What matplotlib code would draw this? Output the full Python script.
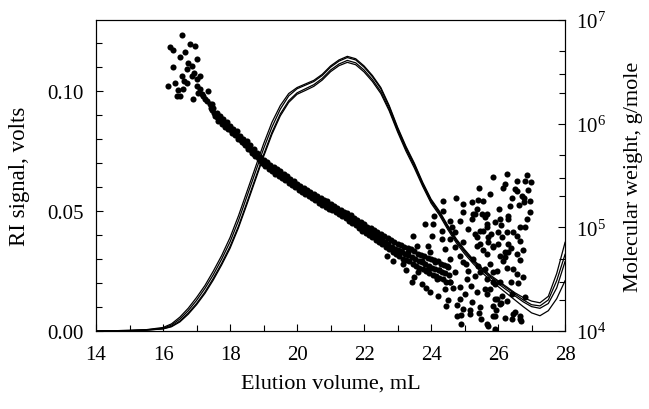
import matplotlib
matplotlib.use("Agg")
import matplotlib.pyplot as plt
from matplotlib.ticker import MultipleLocator, FormatStrFormatter, LogLocator, NullFormatter

# --- RI traces (left axis), elution volume in mL ---
ri_vol = [14.0, 15.0, 15.5, 16.0, 16.25, 16.5, 16.75, 17.0, 17.25, 17.5, 17.75,
          18.0, 18.25, 18.5, 18.75, 19.0, 19.25, 19.5, 19.75, 20.0, 20.25, 20.5,
          20.75, 21.0, 21.25, 21.5, 21.75, 22.0, 22.25, 22.5, 22.75, 23.0, 23.25,
          23.5, 23.75, 24.0, 24.25, 24.5, 24.75, 25.0, 25.25, 25.5, 25.75, 26.0,
          26.25, 26.5, 26.75, 27.0, 27.25, 27.5, 27.75, 28.0]

ri_run1 = [0.0, 0.0003, 0.0006, 0.0015, 0.003, 0.0058, 0.0095, 0.014, 0.019, 0.025,
           0.0315, 0.039, 0.048, 0.058, 0.068, 0.078, 0.087, 0.094, 0.099, 0.1015,
           0.103, 0.1045, 0.107, 0.1105, 0.113, 0.1145, 0.1135, 0.1105, 0.1065,
           0.1015, 0.094, 0.085, 0.077, 0.070, 0.062, 0.055, 0.050, 0.044, 0.0385,
           0.034, 0.030, 0.0265, 0.0235, 0.021, 0.0185, 0.016, 0.014, 0.0125,
           0.0118, 0.0145, 0.024, 0.037]
ri_run2 = [0.0, 0.0003, 0.0005, 0.0012, 0.0025, 0.005, 0.0085, 0.0128, 0.0178, 0.0235,
           0.030, 0.0372, 0.046, 0.056, 0.066, 0.076, 0.085, 0.0925, 0.098, 0.101,
           0.1025, 0.104, 0.1065, 0.110, 0.1125, 0.114, 0.113, 0.110, 0.106, 0.101,
           0.0935, 0.0845, 0.0765, 0.0695, 0.0615, 0.0545, 0.0495, 0.0435, 0.038,
           0.0335, 0.0295, 0.026, 0.023, 0.0205, 0.018, 0.0155, 0.013, 0.011,
           0.0105, 0.013, 0.021, 0.032]
ri_run3 = [0.0, 0.0002, 0.0004, 0.001, 0.002, 0.0042, 0.0075, 0.0115, 0.0163, 0.022,
           0.0283, 0.0353, 0.0437, 0.0535, 0.0635, 0.0735, 0.0828, 0.0905, 0.096,
           0.0993, 0.101, 0.1027, 0.1053, 0.1088, 0.1113, 0.1128, 0.1118, 0.1088,
           0.1048, 0.0998, 0.0925, 0.0837, 0.0758, 0.0688, 0.061, 0.054, 0.049,
           0.043, 0.0375, 0.033, 0.029, 0.0255, 0.0225, 0.0198, 0.0172, 0.0147,
           0.0122, 0.0102, 0.0095, 0.0115, 0.018, 0.029]
ri_run4 = [0.0, 0.0002, 0.0004, 0.0009, 0.0018, 0.0038, 0.007, 0.011, 0.0157, 0.0213,
           0.0276, 0.0345, 0.043, 0.0527, 0.0627, 0.0727, 0.082, 0.0897, 0.0953,
           0.0987, 0.1003, 0.102, 0.1046, 0.1081, 0.1106, 0.112, 0.111, 0.108, 0.104,
           0.099, 0.0918, 0.083, 0.075, 0.068, 0.0603, 0.0533, 0.0483, 0.0423,
           0.0368, 0.0322, 0.0282, 0.0246, 0.0215, 0.0186, 0.0158, 0.013, 0.0102,
           0.0076, 0.0064, 0.0085, 0.0135, 0.021]

# --- molecular weight points (right axis), g/mole ---
# early, high-MW cluster
top_vol = [16.15, 16.21, 16.30, 16.30, 16.36, 16.42, 16.50, 16.50, 16.57, 16.57,
           16.60, 16.66, 16.70, 16.72, 16.80, 16.87, 16.87, 16.90, 16.96, 17.00,
           17.00, 17.00, 17.10, 17.10, 17.20, 17.30, 17.35, 16.75, 16.92, 17.05,
           17.15, 17.25, 16.45, 16.62, 17.45]
top_mw = [2.3e6, 5.5e6, 5.2e6, 3.5e6, 2.5e6, 1.85e6, 4.4e6, 1.85e6, 7.2e6, 2.9e6,
          2.15e6, 4.9e6, 3.4e6, 2.5e6, 5.9e6, 3.6e6, 2.9e6, 1.74e6, 5.6e6, 4.2e6,
          2.7e6, 2.3e6, 2.9e6, 2.15e6, 1.85e6, 1.66e6, 2.05e6, 3.9e6, 3.1e6, 2.0e6,
          1.95e6, 1.75e6, 2.1e6, 2.6e6, 1.55e6]

# main band: upper / lower edge points
band_vol = [17.40, 17.45, 17.50, 17.55, 17.60, 17.65, 17.70, 17.75, 17.80, 17.85,
            17.90, 17.95, 18.00, 18.05, 18.10, 18.15, 18.20, 18.25, 18.30, 18.35,
            18.40, 18.45, 18.50, 18.55, 18.60, 18.65, 18.70, 18.75, 18.80, 18.85,
            18.90, 18.95, 19.00, 19.05, 19.10, 19.15, 19.20, 19.25, 19.30, 19.35,
            19.40, 19.45, 19.50, 19.55, 19.60, 19.65, 19.70, 19.75, 19.80, 19.85,
            19.90, 19.95, 20.00, 20.05, 20.10, 20.15, 20.20, 20.25, 20.30, 20.35,
            20.40, 20.45, 20.50, 20.55, 20.60, 20.65, 20.70, 20.75, 20.80, 20.85,
            20.90, 20.95, 21.00, 21.05, 21.10, 21.15, 21.20, 21.25, 21.30, 21.35,
            21.40, 21.45, 21.50, 21.55, 21.60, 21.65, 21.70, 21.75, 21.80, 21.85,
            21.90, 21.95, 22.00, 22.05, 22.10, 22.15, 22.20, 22.25, 22.30, 22.35,
            22.40, 22.45, 22.50, 22.55, 22.60, 22.65, 22.70, 22.75, 22.80, 22.85,
            22.90, 22.95, 23.00, 23.05, 23.10, 23.15, 23.20, 23.25, 23.30, 23.35,
            23.40, 23.45, 23.50, 23.55, 23.60, 23.65, 23.70, 23.75, 23.80, 23.85,
            23.90, 23.95, 24.00, 24.05, 24.10, 24.15, 24.20, 24.25, 24.30, 24.35,
            24.40, 24.45, 24.50, 24.55]
band_mw = [1.55e6, 1.35e6, 1.41e6, 1.20e6, 1.26e6, 1.07e6, 1.20e6, 1.00e6, 1.10e6, 9.3e5,
           1.05e6, 8.9e5, 9.5e5, 8.1e5, 8.9e5, 7.8e5, 8.5e5, 7.2e5, 7.6e5, 6.6e5,
           7.1e5, 6.2e5, 6.8e5, 5.75e5, 6.2e5, 5.25e5, 5.75e5, 4.9e5, 5.25e5, 4.57e5,
           4.8e5, 4.17e5, 4.47e5, 3.9e5, 4.27e5, 3.7e5, 4.0e5, 3.47e5, 3.8e5, 3.3e5,
           3.63e5, 3.16e5, 3.47e5, 3.0e5, 3.3e5, 2.9e5, 3.16e5, 2.7e5, 2.95e5, 2.57e5,
           2.82e5, 2.45e5, 2.63e5, 2.29e5, 2.5e5, 2.19e5, 2.4e5, 2.09e5, 2.29e5, 2.0e5,
           2.19e5, 1.91e5, 2.09e5, 1.82e5, 2.0e5, 1.74e5, 1.91e5, 1.66e5, 1.82e5, 1.58e5,
           1.78e5, 1.51e5, 1.70e5, 1.48e5, 1.62e5, 1.41e5, 1.55e5, 1.35e5, 1.48e5, 1.29e5,
           1.41e5, 1.23e5, 1.38e5, 1.15e5, 1.32e5, 1.10e5, 1.23e5, 1.05e5, 1.17e5, 9.8e4,
           1.12e5, 9.3e4, 1.07e5, 8.9e4, 1.02e5, 8.5e4, 9.8e4, 8.1e4, 9.5e4, 7.6e4,
           9.1e4, 7.2e4, 8.7e4, 6.9e4, 8.3e4, 6.5e4, 7.9e4, 6.2e4, 7.6e4, 5.75e4,
           7.2e4, 5.5e4, 6.9e4, 5.25e4, 6.8e4, 5.0e4, 6.5e4, 4.9e4, 6.3e4, 4.7e4,
           6.2e4, 4.47e4, 5.9e4, 4.27e4, 5.6e4, 4.07e4, 5.4e4, 4.0e4, 5.25e4, 3.8e4,
           5.1e4, 3.63e4, 5.0e4, 3.47e4, 4.8e4, 3.4e4, 4.7e4, 3.24e4, 4.47e4, 3.16e4,
           4.37e4, 3.0e4, 4.17e4, 2.95e4]

# main band: centre points
mid_vol = [17.425, 17.525, 17.625, 17.725, 17.825, 17.925, 18.025, 18.125, 18.225, 18.325,
           18.425, 18.525, 18.625, 18.725, 18.825, 18.925, 19.025, 19.125, 19.225, 19.325,
           19.425, 19.525, 19.625, 19.725, 19.825, 19.925, 20.025, 20.125, 20.225, 20.325,
           20.425, 20.525, 20.625, 20.725, 20.825, 20.925, 21.025, 21.125, 21.225, 21.325,
           21.425, 21.525, 21.625, 21.725, 21.825, 21.925, 22.025, 22.125, 22.225, 22.325,
           22.425, 22.525, 22.625, 22.725, 22.825, 22.925, 23.025, 23.125, 23.225, 23.325,
           23.425, 23.525, 23.625, 23.725, 23.825, 23.925, 24.025, 24.125, 24.225, 24.325,
           24.425, 24.525]
mid_mw = [1.41e6, 1.26e6, 1.15e6, 1.07e6, 1.0e6, 9.3e5, 8.7e5, 8.1e5, 7.6e5, 6.9e5,
          6.5e5, 6.0e5, 5.6e5, 5.1e5, 4.8e5, 4.37e5, 4.1e5, 3.9e5, 3.7e5, 3.5e5,
          3.35e5, 3.2e5, 3.05e5, 2.9e5, 2.72e5, 2.57e5, 2.43e5, 2.32e5, 2.2e5, 2.1e5,
          2.02e5, 1.93e5, 1.84e5, 1.76e5, 1.68e5, 1.62e5, 1.57e5, 1.5e5, 1.43e5, 1.36e5,
          1.3e5, 1.24e5, 1.19e5, 1.12e5, 1.06e5, 1.01e5, 9.7e4, 9.2e4, 8.8e4, 8.4e4,
          8.0e4, 7.7e4, 7.3e4, 6.9e4, 6.5e4, 6.2e4, 6.0e4, 5.75e4, 5.55e4, 5.4e4,
          5.2e4, 4.95e4, 4.7e4, 4.6e4, 4.4e4, 4.27e4, 4.1e4, 4.0e4, 3.85e4, 3.7e4,
          3.6e4, 3.47e4]

# noisy tail, 22.5-27 mL
tail_vol = [25.85, 26.27, 26.87, 26.81, 26.99, 25.43, 26.15, 26.51, 26.57, 24.36,
            24.75, 25.40, 25.55, 26.42, 26.78, 26.78, 24.96, 26.63, 24.36, 24.96,
            25.37, 26.03, 26.96, 25.25, 25.52, 25.67, 26.30, 26.30, 26.66, 26.81,
            26.45, 26.27, 25.67, 25.55, 25.70, 26.12, 26.66, 26.30, 25.85, 25.46,
            26.21, 26.06, 25.67, 26.66, 26.21, 25.61, 25.85, 25.46, 26.57, 26.75,
            26.06, 25.85, 25.76, 26.42, 26.12, 25.97, 26.27, 26.06, 26.81, 25.85,
            26.51, 26.66, 25.67, 25.91, 23.82, 24.06, 24.57, 24.63, 24.87, 25.22,
            25.31, 25.22, 25.61, 25.67, 25.91, 26.00, 25.46, 25.37, 25.70, 25.85,
            25.37, 24.96, 24.57, 24.33, 24.42, 24.87, 24.96, 24.48, 24.72, 25.10,
            25.40, 25.67, 25.97, 26.27, 26.45, 26.57, 26.30, 26.15, 25.91, 25.61,
            25.37, 25.07, 24.87, 24.57, 24.42, 24.87, 25.22, 25.46, 25.67, 25.91,
            24.96, 25.16, 25.91, 26.42, 26.66, 24.78, 23.97, 23.91, 23.61, 23.73,
            23.43, 24.18, 24.12, 23.97, 23.73, 23.91, 23.58, 23.31, 23.07, 23.16,
            22.87, 22.69, 24.03, 23.46, 24.33, 24.72, 24.45, 24.78, 24.90, 25.16,
            25.43, 25.85, 24.90, 25.70, 25.91, 26.45, 26.69, 26.09,
            24.20, 24.50, 24.65, 25.00, 25.05, 25.25, 25.30, 25.55, 25.75, 25.80,
            26.00, 26.05, 26.20, 26.35, 26.40, 26.55, 26.70, 26.75, 26.90, 26.85,
            26.60, 26.40, 26.20, 25.95, 25.50, 25.20, 24.70, 24.55, 24.25, 23.85,
            23.50, 23.25, 24.10, 25.10, 25.30, 26.95, 26.10, 25.75, 26.55]
tail_mw = [3.06e5, 3.27e5, 3.19e5, 2.79e5, 2.73e5, 2.39e5, 2.39e5, 2.34e5, 2.24e5, 1.79e5,
           1.92e5, 1.83e5, 1.79e5, 1.92e5, 1.92e5, 1.75e5, 1.68e5, 1.64e5, 1.44e5, 1.41e5,
           1.50e5, 1.50e5, 1.41e5, 1.34e5, 1.34e5, 1.34e5, 1.28e5, 1.20e5, 1.00e5, 1.00e5,
           9.0e4, 9.0e4, 1.07e5, 9.2e4, 8.1e4, 8.1e4, 7.4e4, 6.9e4, 6.6e4, 6.9e4,
           5.8e4, 5.3e4, 5.5e4, 4.9e4, 5.2e4, 4.0e4, 3.7e4, 3.7e4, 3.55e4, 3.3e4,
           3.0e4, 2.97e4, 2.54e4, 2.27e4, 2.18e4, 2.04e4, 1.95e4, 1.82e4, 2.13e4, 1.40e4,
           1.52e4, 1.31e4, 1.17e4, 1.05e4, 1.07e5, 1.07e5, 1.15e5, 1.02e5, 1.15e5, 1.75e5,
           1.34e5, 1.20e5, 1.26e5, 1.02e5, 1.12e5, 9.0e4, 9.2e4, 8.1e4, 7.2e4, 6.5e4,
           6.6e4, 7.2e4, 7.7e4, 7.7e4, 6.2e4, 5.3e4, 4.6e4, 4.2e4, 3.7e4, 3.8e4,
           4.2e4, 3.16e4, 3.8e4, 4.1e4, 4.0e4, 5.5e4, 5.8e4, 4.7e4, 2.84e4, 2.54e4,
           2.38e4, 3.16e4, 2.65e4, 2.97e4, 2.54e4, 2.04e4, 1.9e4, 1.7e4, 2.27e4, 2.04e4,
           1.63e4, 1.46e4, 1.40e4, 1.31e4, 1.40e4, 1.40e4, 2.38e4, 4.0e4, 3.7e4, 2.84e4,
           3.0e4, 3.16e4, 4.6e4, 5.8e4, 4.7e4, 6.6e4, 6.6e4, 5.8e4, 5.9e4, 4.4e4,
           4.7e4, 5.3e4, 8.2e4, 8.2e4, 9.2e4, 9.0e4, 1.76e4, 1.8e4, 1.43e4, 1.59e4,
           1.48e4, 1.74e4, 1.17e4, 1.12e4, 1.0e4, 1.46e4, 1.25e4, 1.86e4,
           2.2e4, 2.0e4, 2.6e4, 2.3e4, 4.4e4, 5.0e4, 3.4e4, 6.0e4, 4.4e4, 8.7e4,
           6.9e4, 1.2e5, 2.6e5, 1.6e5, 6.3e4, 8.3e4, 2.0e5, 6.0e4, 2.3e5, 1.2e5,
           2.9e4, 3.0e4, 1.35e4, 1.6e4, 1.3e4, 2.7e4, 6.5e4, 5.0e4, 3.9e4, 2.6e4,
           3.3e4, 3.9e4, 1.3e5, 9.7e4, 8.7e4, 1.8e5, 1.05e5, 2.1e5, 2.8e5]

plt.rcParams['font.family'] = ['Liberation Serif', 'DejaVu Serif']
plt.rcParams['mathtext.fontset'] = 'custom'
plt.rcParams['mathtext.rm'] = 'Liberation Serif'
plt.rcParams['mathtext.it'] = 'Liberation Serif:italic'

fig = plt.figure(figsize=(6.49, 4.10), dpi=100)
ax = fig.add_axes([0.148, 0.190, 0.7227, 0.7585])
ax2 = ax.twinx()

# RI traces
for run in (ri_run1, ri_run2, ri_run3, ri_run4):
    ax.plot(ri_vol, run, color='black', linewidth=0.9)

ax.set_xlim(14, 28)
ax.set_ylim(0, 0.1296)
ax.xaxis.set_major_locator(MultipleLocator(2))
ax.xaxis.set_minor_locator(MultipleLocator(1))
ax.yaxis.set_major_locator(MultipleLocator(0.05))
ax.yaxis.set_minor_locator(MultipleLocator(0.01))
ax.yaxis.set_major_formatter(FormatStrFormatter('%.2f'))
ax.tick_params(which='both', direction='in', top=False, right=False,
               width=0.8, labelsize=15)
ax.tick_params(which='major', length=5)
ax.tick_params(which='minor', length=4)
ax.tick_params(axis='x', which='major', pad=10)
ax.tick_params(axis='y', which='major', pad=9)
ax.set_xlabel('Elution volume, mL', fontsize=16, labelpad=7)
ax.set_ylabel('RI signal, volts', fontsize=16.5, labelpad=12)

# molecular weight points
ax2.set_yscale('log')
for xs, ys in ((top_vol, top_mw), (band_vol, band_mw), (mid_vol, mid_mw), (tail_vol, tail_mw)):
    ax2.plot(xs, ys, 'o', color='black', markersize=4.4, markeredgewidth=0)
ax2.set_ylim(1e4, 1e7)
ax2.yaxis.set_major_locator(LogLocator(base=10, numticks=10))
ax2.yaxis.set_minor_locator(LogLocator(base=10, subs=[2, 3, 5], numticks=10))
ax2.yaxis.set_minor_formatter(NullFormatter())
ax2.tick_params(which='both', direction='in', width=0.8, labelsize=15)
ax2.tick_params(which='major', length=5, pad=7.5)
ax2.tick_params(which='minor', length=4)
ax2.set_ylabel('Molecular weight, g/mole', fontsize=16, labelpad=13)

for a in (ax, ax2):
    for sp in a.spines.values():
        sp.set_linewidth(0.8)

fig.savefig('out.png', dpi=100)
